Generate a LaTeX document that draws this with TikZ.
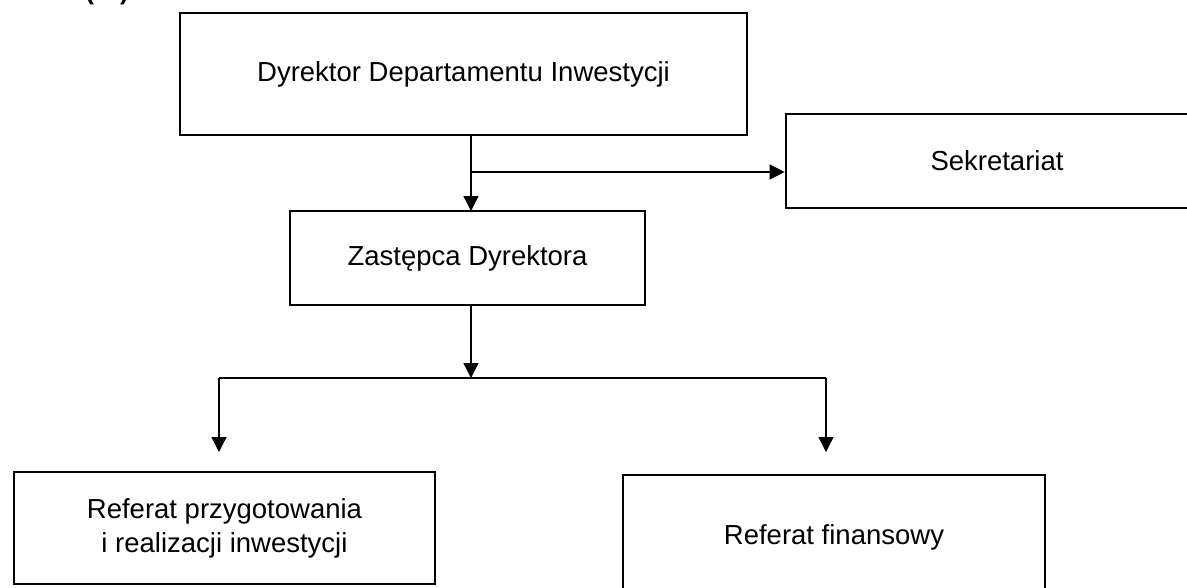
\documentclass[tikz,border=0pt]{standalone}
\usepackage{fontspec}
\setmainfont{Liberation Sans}
\usetikzlibrary{arrows.meta}
\begin{document}
\begin{tikzpicture}[x=1pt,y=-1pt,
  box/.style={draw,line width=2.6pt,inner sep=0pt,font=\fontsize{27.5}{34}\selectfont,align=center},
  conn/.style={line width=1.3pt},
  arr/.style={conn,-{Triangle[length=15pt,width=15pt]}}]
\useasboundingbox (0,0) rectangle (1187,587);
\clip (0,0) rectangle (1187,587);
\node[font=\fontsize{26}{30}\selectfont\bfseries,anchor=base] (hdr) at (107,-1) {(…)};
\node[box,minimum width=567pt,minimum height=122pt] (dyr) at (463.5,74) {Dyrektor Departamentu Inwestycji};
\node[box,minimum width=422pt,minimum height=94pt] (sek) at (997,161) {Sekretariat};
\node[box,minimum width=355pt,minimum height=94pt] (zas) at (467.5,258) {Zastępca Dyrektora};
\node[box,minimum width=421pt,minimum height=112pt] (ref1) at (224.5,528) {Referat przygotowania\\i realizacji inwestycji};
\node[box,minimum width=422pt,minimum height=124pt] (ref2) at (834,537) {Referat finansowy};
\coordinate (d1) at (471,135);
\coordinate (z1) at (471,211);
\coordinate (br) at (471,172);
\coordinate (z2) at (471,305);
\coordinate (hm) at (471,378);
\coordinate (hl) at (219,378);
\coordinate (hr) at (826,378);
\coordinate (tl) at (219,452);
\coordinate (tr) at (826,452);
\draw[arr] (d1) -- (z1);
\draw[arr] (br) -- (sek.west |- br);
\draw[arr] (z2) -- (hm);
\draw[conn] (hl) -- (hr);
\draw[arr] (hl) -- (tl);
\draw[arr] (hr) -- (tr);
\end{tikzpicture}
\end{document}
